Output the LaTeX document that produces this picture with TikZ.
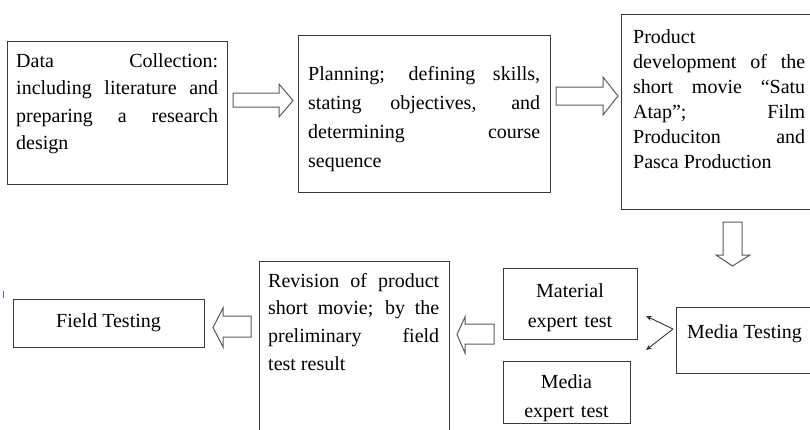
\documentclass[tikz,border=0pt]{standalone}
\usepackage{fontspec}
\setmainfont{Liberation Serif}
\usetikzlibrary{arrows.meta}
\definecolor{boxgray}{HTML}{3A3A3A}
\definecolor{arrowgray}{HTML}{5A5A5A}
\definecolor{markblue}{HTML}{4A6FB5}
\hbadness=10000
\begin{document}
\begin{tikzpicture}[x=1pt,y=-1pt,
  box/.style={draw=boxgray, line width=1.3pt, inner sep=0pt, anchor=north west},
  txt/.style={inner sep=0pt, anchor=north west, align=justify},
  ctxt/.style={inner sep=0pt, anchor=north, align=center},
  blockarrow/.style={draw=arrowgray, fill=white, line width=1pt, line join=miter},
  thinarrow/.style={draw=black!80, line width=0.9pt, -{Stealth[length=6pt,width=5pt]}}]
\useasboundingbox (0,0) rectangle (810,429);

% boxes
\node[box, minimum width=220pt, minimum height=143pt] (data) at (7,41) {};
\node[box, minimum width=252pt, minimum height=157pt] (plan) at (298,35) {};
\node[box, minimum width=196pt, minimum height=195pt] (prod) at (621,14) {};
\node[box, minimum width=140pt, minimum height=66pt] (media) at (676,307) {};
\node[box, minimum width=134pt, minimum height=71pt] (material) at (503,268) {};
\node[box, minimum width=127pt, minimum height=62pt] (mediaexp) at (503,361) {};
\node[box, minimum width=190pt, minimum height=180pt] (revision) at (259,261) {};
\node[box, minimum width=191pt, minimum height=48pt] (field) at (13,299) {};

% texts
\node[txt, text width=202pt, font=\fontsize{20}{27.5}\selectfont] (datat) at (16,47)
  {\rule{0pt}{20pt}Data Collection:\linebreak including literature and\linebreak preparing a research\linebreak design};
\node[txt, text width=232pt, font=\fontsize{20}{29}\selectfont] (plant) at (308,60)
  {\rule{0pt}{20pt}Planning; defining skills,\linebreak stating objectives, and\linebreak determining course\linebreak sequence};
\node[txt, text width=172pt, font=\fontsize{20}{25}\selectfont] (prodt) at (633,23)
  {\rule{0pt}{20pt}Product\newline development of the\linebreak short movie “Satu\linebreak Atap”; Film\linebreak Produciton and\linebreak Pasca Production};
\node[txt, text width=171pt, font=\fontsize{20}{27.7}\selectfont] (revisiont) at (268,267)
  {\rule{0pt}{20pt}Revision of product\linebreak short movie; by the\linebreak preliminary field\linebreak test result};
\node[ctxt, text width=130pt, font=\fontsize{20}{30}\selectfont] (materialt) at (570,277)
  {\rule{0pt}{20pt}Material\\expert test};
\node[ctxt, text width=125pt, font=\fontsize{20}{29}\selectfont] (mediaexpt) at (566.5,368)
  {\rule{0pt}{20pt}Media\\expert test};
\node[inner sep=0pt, anchor=base west, font=\fontsize{20}{24}\selectfont] (mediat) at (687,338) {Media Testing};
\node[inner sep=0pt, anchor=base, font=\fontsize{20}{24}\selectfont] (fieldt) at (108.5,327) {Field Testing};

% block arrows
\draw[blockarrow] (233,93) -- (279,93) -- (279,84) -- (293,100.5) -- (279,117) -- (279,107) -- (233,107) -- cycle;
\draw[blockarrow] (556,87) -- (603,87) -- (603,77) -- (618,96) -- (603,115) -- (603,105) -- (556,105) -- cycle;
\draw[blockarrow] (723,222) -- (742,222) -- (742,255) -- (750,255) -- (732.5,266) -- (716,255) -- (723,255) -- cycle;
\draw[blockarrow] (251,316) -- (223,316) -- (223,308) -- (213,327.5) -- (223,347) -- (223,337) -- (251,337) -- cycle;
\draw[blockarrow] (494,324) -- (465,324) -- (465,317) -- (457,334.5) -- (465,353) -- (465,344) -- (494,344) -- cycle;

% thin arrows from Media Testing
\coordinate (j) at (673,329);
\coordinate (t1) at (646,316);
\coordinate (t2) at (646,350);
\draw[thinarrow] (j) -- (t1);
\draw[thinarrow] (j) -- (t2);

% small blue mark
\draw[markblue, line width=1pt] (3,291) -- (3,298);
\end{tikzpicture}
\end{document}
